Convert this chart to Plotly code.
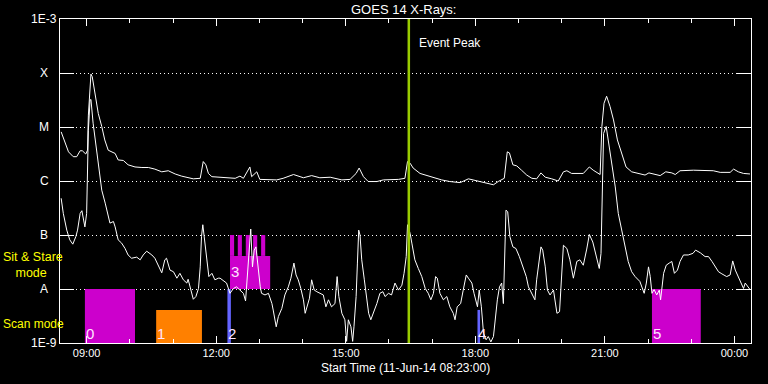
import math
import plotly.graph_objects as go
from datetime import datetime, timedelta

# ---------------- data ----------------
day0 = datetime(2014, 6, 11)
start_ut = 8 + 23 / 60.0          # 08:23
span_hours = 16.0
event_peak_ut = 16.46

# GOES long channel (1-8 A): UT hours, log10 flux (W/m^2)
long_ut = [
    8.41, 8.50, 8.58, 8.69, 8.77, 8.85, 8.90, 8.98, 9.02, 9.04,
    9.08, 9.10, 9.13, 9.19, 9.27, 9.35, 9.42, 9.50, 9.58, 9.66,
    9.73, 9.85, 9.96, 10.12, 10.28, 10.43, 10.58, 10.74, 10.89, 11.05,
    11.20, 11.35, 11.47, 11.63, 11.70, 11.76, 11.82, 11.90, 12.05, 12.20,
    12.44, 12.55, 12.63, 12.78, 12.82, 12.94, 13.01, 13.40, 13.55, 13.79,
    14.02, 14.21, 14.40, 14.64, 14.83, 14.91, 15.10, 15.24, 15.31, 15.41,
    15.52, 15.72, 15.87, 16.03, 16.22, 16.37, 16.43, 16.49, 16.56, 16.72,
    16.95, 17.11, 17.22, 17.41, 17.65, 17.84, 17.95, 18.11, 18.26, 18.42,
    18.53, 18.67, 18.74, 18.79, 18.87, 18.96, 19.07, 19.19, 19.31, 19.42,
    19.52, 19.62, 19.77, 19.92, 20.04, 20.12, 20.23, 20.50, 20.64, 20.73,
    20.89, 20.93, 20.98, 21.04, 21.12, 21.20, 21.29, 21.39, 21.49, 21.62,
    21.81, 21.93, 22.02, 22.12, 22.28, 22.41, 22.55, 22.63, 22.74, 23.05,
    23.36, 23.51, 23.67, 23.90, 23.98, 24.09, 24.21, 24.36,
]
long_log10 = [
    -5.09, -5.30, -5.46, -5.55, -5.55, -5.44, -5.44, -5.50, -5.43, -4.78,
    -4.13, -4.02, -4.07, -4.38, -4.75, -4.99, -5.24, -5.43, -5.46, -5.49,
    -5.61, -5.62, -5.70, -5.74, -5.75, -5.75, -5.78, -5.83, -5.81, -5.87,
    -5.91, -5.94, -5.96, -5.95, -5.64, -5.70, -5.86, -5.92, -5.93, -5.94,
    -5.95, -5.91, -5.95, -5.74, -5.92, -5.83, -5.97, -5.98, -5.95, -5.88,
    -5.94, -5.90, -5.94, -5.93, -5.96, -5.98, -5.97, -5.86, -5.76, -5.92,
    -6.01, -6.01, -5.98, -5.98, -5.97, -5.95, -5.64, -5.67, -5.76, -5.86,
    -5.92, -5.95, -5.98, -6.01, -6.03, -5.96, -5.98, -6.01, -6.04, -6.07,
    -6.01, -5.95, -5.46, -5.48, -5.70, -5.72, -5.80, -5.89, -5.95, -5.96,
    -5.85, -5.93, -5.96, -6.00, -5.83, -5.81, -5.86, -5.86, -5.74, -5.80,
    -5.88, -4.99, -4.56, -4.43, -4.62, -4.87, -5.24, -5.49, -5.74, -5.83,
    -5.86, -5.89, -5.85, -5.87, -5.90, -5.83, -5.85, -5.88, -5.81, -5.80,
    -5.80, -5.81, -5.84, -5.84, -5.78, -5.83, -5.86, -5.87,
]

# GOES short channel (0.5-4 A): UT hours, log10 flux (W/m^2)
short_ut = [
    8.41, 8.46, 8.54, 8.61, 8.68, 8.75, 8.79, 8.85, 8.89, 8.92,
    8.96, 9.00, 9.02, 9.04, 9.08, 9.10, 9.15, 9.23, 9.31, 9.35,
    9.43, 9.50, 9.54, 9.62, 9.66, 9.73, 9.81, 9.89, 9.96, 10.04,
    10.16, 10.24, 10.31, 10.39, 10.51, 10.58, 10.66, 10.74, 10.81, 10.85,
    10.93, 11.01, 11.09, 11.16, 11.24, 11.32, 11.35, 11.43, 11.47, 11.53,
    11.59, 11.63, 11.66, 11.69, 11.72, 11.78, 11.83, 11.90, 11.97, 12.05,
    12.09, 12.24, 12.32, 12.40, 12.47, 12.55, 12.63, 12.68, 12.71, 12.74,
    12.80, 12.84, 12.88, 12.92, 12.98, 13.02, 13.05, 13.13, 13.21, 13.29,
    13.32, 13.39, 13.44, 13.52, 13.59, 13.67, 13.73, 13.77, 13.80, 13.85,
    13.90, 13.96, 14.02, 14.06, 14.11, 14.16, 14.21, 14.27, 14.33, 14.40,
    14.48, 14.54, 14.60, 14.67, 14.75, 14.80, 14.84, 14.91, 14.98, 15.02,
    15.06, 15.12, 15.16, 15.19, 15.24, 15.27, 15.30, 15.33, 15.37, 15.43,
    15.49, 15.53, 15.58, 15.64, 15.72, 15.79, 15.86, 15.91, 15.99, 16.06,
    16.14, 16.22, 16.30, 16.35, 16.40, 16.43, 16.49, 16.53, 16.60, 16.68,
    16.76, 16.84, 16.91, 16.97, 17.03, 17.08, 17.12, 17.18, 17.26, 17.34,
    17.41, 17.49, 17.53, 17.58, 17.66, 17.72, 17.79, 17.84, 17.92, 17.97,
    18.02, 18.05, 18.09, 18.14, 18.19, 18.25, 18.30, 18.36, 18.42, 18.46,
    18.51, 18.56, 18.61, 18.65, 18.68, 18.71, 18.75, 18.80, 18.87, 18.94,
    19.02, 19.10, 19.18, 19.23, 19.31, 19.38, 19.42, 19.46, 19.52, 19.56,
    19.62, 19.67, 19.73, 19.81, 19.85, 19.89, 19.95, 19.99, 20.04, 20.12,
    20.19, 20.27, 20.35, 20.42, 20.50, 20.58, 20.64, 20.72, 20.81, 20.87,
    20.91, 20.94, 20.97, 21.03, 21.08, 21.16, 21.24, 21.31, 21.39, 21.47,
    21.54, 21.62, 21.70, 21.81, 21.91, 21.96, 22.01, 22.05, 22.09, 22.14,
    22.20, 22.26, 22.29, 22.36, 22.42, 22.49, 22.55, 22.61, 22.68, 22.74,
    22.82, 22.93, 23.04, 23.10, 23.21, 23.32, 23.40, 23.48, 23.55, 23.63,
    23.71, 23.82, 23.90, 23.96, 24.02, 24.09, 24.17, 24.21, 24.25, 24.31,
    24.36,
]
short_log10 = [
    -6.32, -6.60, -6.91, -7.09, -7.17, -7.03, -6.91, -6.60, -6.55, -6.72,
    -6.85, -6.60, -5.98, -5.06, -4.50, -4.49, -4.93, -5.43, -5.86, -6.17,
    -6.41, -6.66, -6.78, -6.75, -6.85, -7.09, -7.15, -7.25, -7.37, -7.43,
    -7.41, -7.46, -7.37, -7.30, -7.37, -7.43, -7.56, -7.70, -7.46, -7.43,
    -7.65, -7.68, -7.80, -7.71, -7.83, -7.89, -7.82, -8.08, -8.19, -8.14,
    -7.99, -7.59, -7.03, -6.81, -7.00, -7.40, -7.77, -7.71, -7.83, -7.80,
    -7.80, -7.89, -8.08, -7.99, -7.96, -8.02, -8.08, -8.22, -7.83, -7.59,
    -6.89, -7.59, -7.28, -7.22, -7.71, -7.96, -8.08, -8.11, -8.08, -8.27,
    -8.39, -8.70, -8.51, -8.36, -8.11, -7.96, -7.80, -7.62, -7.52, -7.74,
    -7.83, -7.99, -8.20, -8.45, -8.33, -8.17, -7.83, -8.02, -8.05, -8.08,
    -8.11, -8.33, -8.20, -8.33, -8.27, -7.77, -8.14, -8.45, -8.57, -8.97,
    -8.57, -8.70, -8.97, -8.70, -8.14, -7.52, -6.91, -7.00, -7.46, -7.83,
    -8.20, -8.45, -8.57, -8.45, -8.27, -8.08, -8.05, -8.14, -8.08, -8.11,
    -7.89, -8.02, -7.93, -7.71, -7.40, -6.81, -6.97, -7.15, -7.46, -7.62,
    -7.77, -7.99, -8.08, -8.20, -8.08, -7.77, -7.80, -8.08, -8.20, -8.14,
    -8.33, -8.45, -8.57, -8.33, -8.27, -8.02, -7.74, -7.80, -7.89, -8.08,
    -8.27, -8.33, -8.02, -8.33, -8.82, -8.94, -8.88, -8.98, -8.88, -8.57,
    -8.20, -7.96, -7.89, -8.27, -7.09, -6.54, -6.57, -7.03, -7.22, -7.25,
    -7.40, -7.59, -7.77, -7.96, -8.08, -8.20, -7.83, -7.59, -7.22, -7.28,
    -7.59, -8.02, -8.11, -8.02, -8.20, -8.45, -8.42, -7.83, -7.19, -7.25,
    -7.46, -7.80, -7.49, -7.46, -7.56, -7.26, -6.99, -7.13, -7.46, -7.62,
    -7.34, -5.98, -5.12, -4.99, -5.27, -5.74, -6.11, -6.60, -6.91, -7.22,
    -7.49, -7.68, -7.77, -7.86, -8.08, -7.89, -7.59, -7.77, -8.08, -8.01,
    -8.11, -8.02, -8.20, -7.71, -7.56, -7.52, -7.49, -7.71, -7.65, -7.49,
    -7.37, -7.37, -7.34, -7.28, -7.33, -7.40, -7.40, -7.49, -7.59, -7.68,
    -7.72, -7.77, -7.74, -7.48, -7.65, -7.77, -7.89, -7.99, -7.89, -7.96,
    -8.01,
]

# IRIS observation blocks
obs_labels = ["0", "1", "2", "3", "4", "5"]
obs_start_ut = [8.96, 10.61, 12.26, 12.32, 18.05, 22.09]
obs_end_ut = [10.12, 11.67, 12.34, 13.25, 18.11, 23.22]
obs_low = [1e-9, 1e-9, 1e-9, 1e-8, 1e-9, 1e-9]
obs_high = [1e-8, 4.1e-9, 1e-8, 4.1e-8, 4.1e-9, 1e-8]
obs_colors = ["#CC00CC", "#FF8000", "#6464FF", "#CC00CC", "#6464FF", "#CC00CC"]
obs_label_log10 = [-8.82, -8.82, -8.82, -7.67, -8.82, -8.82]

# raster "teeth" of observation 3
teeth_start_ut = [12.32, 12.50, 12.685, 12.855, 13.04]
teeth_end_ut = [12.415, 12.595, 12.78, 12.95, 13.135]
teeth_low = 4.1e-8
teeth_high = 1e-7

ytick_vals = [1e-9, 1e-8, 1e-7, 1e-6, 1e-5, 1e-4, 1e-3]
ytick_text = ["1E-9", "A", "B", "C", "M", "X", "1E-3"]


def ut(h):
    return day0 + timedelta(hours=h)


FONT = "Liberation Sans"
W, H = 768, 384
L, R, T, B = 60, 17, 19, 41
PW, PH = W - L - R, H - T - B


def px(xpix):
    return (xpix - L) / PW


def py(ypix):
    return (H - B - ypix) / PH


fig = go.Figure()

for i in range(len(obs_labels)):
    t0, t1 = ut(obs_start_ut[i]), ut(obs_end_ut[i])
    fig.add_trace(go.Scatter(
        x=[t0, t1, t1, t0, t0],
        y=[obs_low[i], obs_low[i], obs_high[i], obs_high[i], obs_low[i]],
        mode="lines", fill="toself", fillcolor=obs_colors[i],
        line=dict(width=0, color=obs_colors[i]), hoverinfo="skip", showlegend=False))
for a, b in zip(teeth_start_ut, teeth_end_ut):
    t0, t1 = ut(a), ut(b)
    fig.add_trace(go.Scatter(
        x=[t0, t1, t1, t0, t0],
        y=[teeth_low, teeth_low, teeth_high, teeth_high, teeth_low],
        mode="lines", fill="toself", fillcolor="#CC00CC",
        line=dict(width=0, color="#CC00CC"), hoverinfo="skip", showlegend=False))

fig.add_trace(go.Scatter(x=[ut(h) for h in long_ut], y=[10 ** v for v in long_log10],
                         mode="lines", line=dict(color="white", width=1), showlegend=False))
fig.add_trace(go.Scatter(x=[ut(h) for h in short_ut], y=[10 ** v for v in short_log10],
                         mode="lines", line=dict(color="white", width=1), showlegend=False))

fig.add_trace(go.Scatter(x=[ut(event_peak_ut), ut(event_peak_ut)], y=[1e-9, 1e-3],
                         mode="lines", line=dict(color="#99CC00", width=2.5), showlegend=False))

ann = []
ann.append(dict(text="GOES 14 X-Rays:", x=px(403), y=py(9), xref="paper", yref="paper",
                showarrow=False, font=dict(size=13, color="white", family=FONT),
                xanchor="center", yanchor="middle"))
ann.append(dict(text="Start Time (11-Jun-14 08:23:00)", x=px(405), y=py(368), xref="paper",
                yref="paper", showarrow=False, font=dict(size=12, color="white", family=FONT),
                xanchor="center", yanchor="middle"))
for v, t in zip(ytick_vals, ytick_text):
    lv = math.log10(v)
    ann.append(dict(text=t, x=px(44), y=(lv + 9) / 6.0, xref="paper", yref="paper",
                    showarrow=False, font=dict(size=12, color="white", family=FONT),
                    xanchor="center", yanchor="middle"))
ann.append(dict(text="Sit & Stare<br>\u2003mode", x=px(1), y=py(265),
                xref="paper", yref="paper", showarrow=False, align="left",
                font=dict(size=12.5, color="#FFFF00", family=FONT),
                xanchor="left", yanchor="middle"))
ann.append(dict(text="Scan mode", x=px(1), y=py(324), xref="paper", yref="paper",
                showarrow=False, font=dict(size=12, color="#FFFF00", family=FONT),
                xanchor="left", yanchor="middle"))
ann.append(dict(text="Event Peak", x=ut(event_peak_ut), y=py(43), xref="x", yref="paper",
                showarrow=False, font=dict(size=12, color="white", family=FONT),
                xanchor="left", yanchor="middle", xshift=8))
for i, lab in enumerate(obs_labels):
    ann.append(dict(text=lab, x=ut(obs_start_ut[i]), y=(obs_label_log10[i] + 9) / 6.0,
                    xref="x", yref="paper", showarrow=False,
                    font=dict(size=15, color="#FFE6FF", family=FONT),
                    xanchor="left", yanchor="middle", xshift=-1))

fig.update_layout(
    width=W, height=H,
    margin=dict(l=L, r=R, t=T, b=B, pad=0),
    paper_bgcolor="black", plot_bgcolor="black",
    font=dict(family=FONT, color="white", size=11),
    annotations=ann,
    showlegend=False,
)
fig.update_xaxes(
    type="date",
    range=[ut(start_ut), ut(start_ut + span_hours)],
    tick0=ut(0), dtick=3 * 3600000, tickformat="%H:%M",
    ticks="inside", ticklen=7, tickcolor="white", tickwidth=1,
    minor=dict(dtick=3600000, tick0=ut(0), ticks="inside", ticklen=4, tickcolor="white", showgrid=False),
    showline=True, linecolor="white", linewidth=1, mirror="ticks",
    showgrid=False, zeroline=False,
    tickfont=dict(size=11, color="white", family=FONT),
)
fig.update_yaxes(
    type="log", range=[-9, -3],
    tickvals=ytick_vals, showticklabels=False,
    ticks="inside", ticklen=14, tickcolor="white", tickwidth=1,
    showline=True, linecolor="white", linewidth=1, mirror="ticks",
    showgrid=True, gridcolor="white", gridwidth=1, griddash="1px,3px",
    zeroline=False,
)

fig.write_html(
    "out.html",
    config={"displayModeBar": False},
    post_script="document.body.style.margin='0';document.body.style.background='black';",
)
